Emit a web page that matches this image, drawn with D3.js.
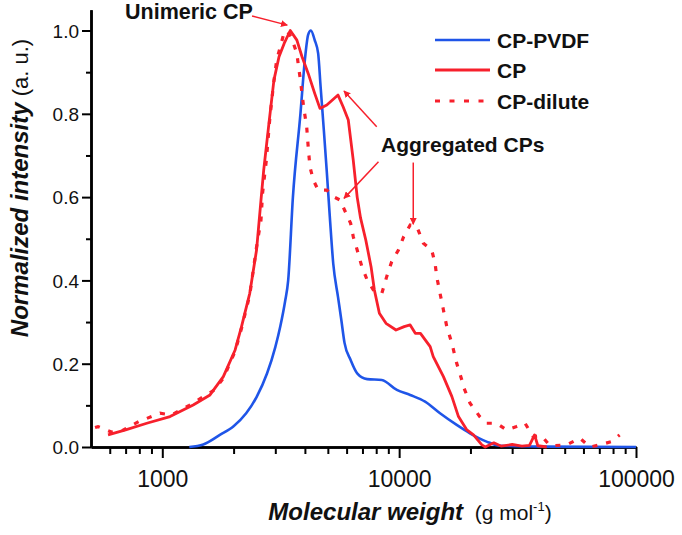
<!DOCTYPE html>
<html><head><meta charset="utf-8">
<script src="https://cdn.jsdelivr.net/npm/d3@7"></script>
<style>
html,body{margin:0;padding:0;background:#fff;}
svg{display:block;font-family:"Liberation Sans",Arial,Helvetica,sans-serif;}
</style></head>
<body>
<svg id="chart" width="682" height="535"></svg>
<script>
// ---------- data (molecular weight g/mol, normalized intensity) ----------
const cpPvdf = [[1300,0],[1490,0.006],[1750,0.029],[2000,0.05],[2260,0.081],[2500,0.12],[2770,0.177],[3000,0.24],[3150,0.29],[3300,0.35],[3400,0.4],[3560,0.6],[3830,0.8],[4000,0.93],[4130,0.99],[4240,1.0],[4400,0.977],[4550,0.945],[4660,0.865],[4810,0.76],[4950,0.66],[5100,0.55],[5270,0.44],[5520,0.36],[5700,0.305],[5880,0.25],[6240,0.209],[6650,0.177],[7330,0.163],[8450,0.161],[9780,0.137],[11130,0.125],[12870,0.109],[14880,0.081],[17500,0.053],[19900,0.033],[23400,0.013],[26700,0.003],[40000,0.001],[100000,0]];
const cp = [[590,0.029],[700,0.041],[860,0.057],[1078,0.073],[1350,0.101],[1590,0.125],[1810,0.169],[2030,0.233],[2160,0.289],[2340,0.369],[2500,0.473],[2610,0.593],[2680,0.665],[2830,0.785],[2960,0.881],[3110,0.937],[3270,0.969],[3470,1.0],[3700,0.977],[3890,0.937],[4130,0.897],[4400,0.849],[4630,0.813],[4950,0.821],[5520,0.845],[5800,0.817],[6100,0.785],[6400,0.689],[6650,0.6],[6870,0.55],[7230,0.497],[7610,0.433],[7860,0.377],[8250,0.321],[8800,0.297],[9700,0.281],[10500,0.289],[11130,0.293],[11700,0.273],[12300,0.273],[13520,0.241],[13930,0.217],[15380,0.169],[16700,0.121],[17800,0.073],[19320,0.041],[20600,0.029],[22350,0.005],[23100,0],[25100,0.01],[27000,0.002],[30000,0.006],[33000,0.002],[35500,0.004],[37300,0.029],[38500,0.003],[42000,0]];
const cpDilute = [[520,0.047],[535,0.049],[610,0.036],[680,0.04],[795,0.061],[978,0.081],[1095,0.077],[1300,0.1],[1660,0.137],[1810,0.165],[2030,0.23],[2160,0.285],[2340,0.365],[2500,0.48],[2610,0.545],[2650,0.609],[2750,0.689],[2840,0.785],[2940,0.865],[3040,0.929],[3150,0.961],[3260,0.993],[3350,1.0],[3500,0.985],[3700,0.945],[3760,0.913],[3830,0.881],[3950,0.817],[4070,0.769],[4130,0.721],[4200,0.673],[4340,0.641],[4550,0.617],[4950,0.617],[5270,0.601],[5630,0.593],[5880,0.569],[6240,0.537],[6400,0.505],[6650,0.473],[6960,0.433],[7330,0.401],[7860,0.373],[8450,0.369],[8860,0.409],[9300,0.445],[9930,0.473],[10450,0.505],[11130,0.533],[11880,0.529],[12660,0.489],[13720,0.473],[14180,0.441],[14410,0.409],[14880,0.369],[15380,0.329],[15890,0.289],[16700,0.249],[17500,0.201],[18390,0.161],[18680,0.145],[19920,0.105],[21900,0.073],[23400,0.057],[25800,0.057],[28400,0.041],[31300,0.049],[34000,0.057],[36800,0.025],[39900,0.027],[43300,0.003],[50900,0.005],[58000,0.021],[63900,0],[70300,0.005],[78800,0.013],[85300,0.029]];

const seriesNames = ["CP-PVDF","CP","CP-dilute"];
const xMajorTicks = [1000,10000,100000];
const xMinorTicks = [600,700,800,900,2000,3000,4000,5000,6000,7000,8000,9000,20000,30000,40000,50000,60000,70000,80000,90000];
const yMajorTicks = [0,0.2,0.4,0.6,0.8,1.0];
const yMinorTicks = [0.1,0.3,0.5,0.7,0.9];
// annotation arrows in data units: [[fromMw, fromI],[toMw, toI]]
const unimericArrow = [[2393,1.035],[3370,1.013]];
const aggregatedArrows = [
  [[8040,0.769],[5850,0.855]],
  [[8180,0.685],[5850,0.597]],
  [[11470,0.683],[11470,0.535]]
];

// ---------- layout ----------
const RED = "#f7202c", BLUE = "#1f55e8";
const svg = d3.select("#chart");
const x = d3.scaleLog().domain([500,100000]).range([91,636]);
const y = d3.scaleLinear().domain([0,1.05]).range([447,9.7]);

svg.append("rect").attr("width",682).attr("height",535).attr("fill","#fff");

svg.append("defs").append("marker")
  .attr("id","ah").attr("viewBox","0 0 10 10").attr("refX",9).attr("refY",5)
  .attr("markerWidth",7).attr("markerHeight",7).attr("markerUnits","userSpaceOnUse")
  .attr("orient","auto")
  .append("path").attr("d","M0,0 L10,5 L0,10 z").attr("fill",RED);

// axes
const gx = svg.append("g").attr("transform","translate(0,447)");
gx.call(d3.axisBottom(x).tickValues(xMinorTicks).tickSize(7).tickSizeOuter(0).tickFormat(""));
const gx2 = svg.append("g").attr("transform","translate(0,447)");
gx2.call(d3.axisBottom(x).tickValues(xMajorTicks).tickSize(11).tickSizeOuter(0).tickFormat(d3.format("d")));
gx2.selectAll("text").attr("y",40).attr("dy",0).attr("font-size",23).attr("fill","#111");
const gy = svg.append("g").attr("transform","translate(91,0)");
gy.call(d3.axisLeft(y).tickValues(yMinorTicks).tickSize(5).tickSizeOuter(0).tickFormat(""));
const gy2 = svg.append("g").attr("transform","translate(91,0)");
gy2.call(d3.axisLeft(y).tickValues(yMajorTicks).tickSize(9).tickSizeOuter(0).tickFormat(d3.format(".1f")).tickPadding(3));
gy2.selectAll("text").attr("font-size",19).attr("dy","0.35em").attr("fill","#111");
svg.selectAll(".domain").attr("stroke","#000").attr("stroke-width",2.5);
svg.selectAll(".tick line").attr("stroke","#000").attr("stroke-width",2);

// lines
const smooth = d3.line().x(d=>x(d[0])).y(d=>y(d[1])).curve(d3.curveMonotoneX);
const line = d3.line().x(d=>x(d[0])).y(d=>y(d[1]));
svg.append("path").datum(cpPvdf).attr("d",smooth).attr("fill","none").attr("stroke",BLUE).attr("stroke-width",2.6).attr("stroke-linejoin","round");
svg.append("path").datum(cp).attr("d",line).attr("fill","none").attr("stroke",RED).attr("stroke-width",2.8).attr("stroke-linejoin","round");
svg.append("path").datum(cpDilute).attr("d",line).attr("fill","none").attr("stroke",RED).attr("stroke-width",3.2).attr("stroke-dasharray","5,9");

// legend
const legY = [40,70,101];
const legStyles = [[BLUE,null,2.6],[RED,null,2.8],[RED,"5,9.5",3.2]];
seriesNames.forEach((n,i)=>{
  svg.append("line").attr("x1",435).attr("x2",490).attr("y1",legY[i]).attr("y2",legY[i])
    .attr("stroke",legStyles[i][0]).attr("stroke-width",legStyles[i][2])
    .attr("stroke-dasharray",legStyles[i][1]);
  svg.append("text").attr("x",497).attr("y",legY[i]+8).attr("font-size",21).attr("font-weight","bold")
    .attr("fill","#111").text(n);
});

// annotations
svg.append("text").attr("x",125).attr("y",19).attr("font-size",21.5).attr("font-weight","bold").attr("fill","#111").text("Unimeric CP");
svg.append("line").attr("x1",x(unimericArrow[0][0])).attr("y1",y(unimericArrow[0][1]))
  .attr("x2",x(unimericArrow[1][0])).attr("y2",y(unimericArrow[1][1]))
  .attr("stroke",RED).attr("stroke-width",1.5).attr("marker-end","url(#ah)");
svg.append("text").attr("x",381).attr("y",152).attr("font-size",21).attr("font-weight","bold").attr("fill","#111").text("Aggregated CPs");
aggregatedArrows.forEach(a=>{
  svg.append("line").attr("x1",x(a[0][0])).attr("y1",y(a[0][1]))
    .attr("x2",x(a[1][0])).attr("y2",y(a[1][1]))
    .attr("stroke",RED).attr("stroke-width",1.5).attr("marker-end","url(#ah)");
});

// axis titles
const xt = svg.append("text").attr("x",410).attr("y",520).attr("text-anchor","middle").attr("fill","#111");
xt.append("tspan").attr("font-size",24).attr("font-weight","bold").attr("font-style","italic").text("Molecular weight");
xt.append("tspan").attr("font-size",21).text("\u00a0 (g mol");
xt.append("tspan").attr("font-size",13).attr("dy",-9).text("-1");
xt.append("tspan").attr("font-size",21).attr("dy",9).text(")");

const yt = svg.append("text").attr("transform","translate(28,188) rotate(-90)").attr("text-anchor","middle").attr("fill","#111");
yt.append("tspan").attr("font-size",24).attr("font-weight","bold").attr("font-style","italic").text("Normalized intensity");
yt.append("tspan").attr("font-size",22).text("\u00a0(a. u.)");
</script>
</body></html>
